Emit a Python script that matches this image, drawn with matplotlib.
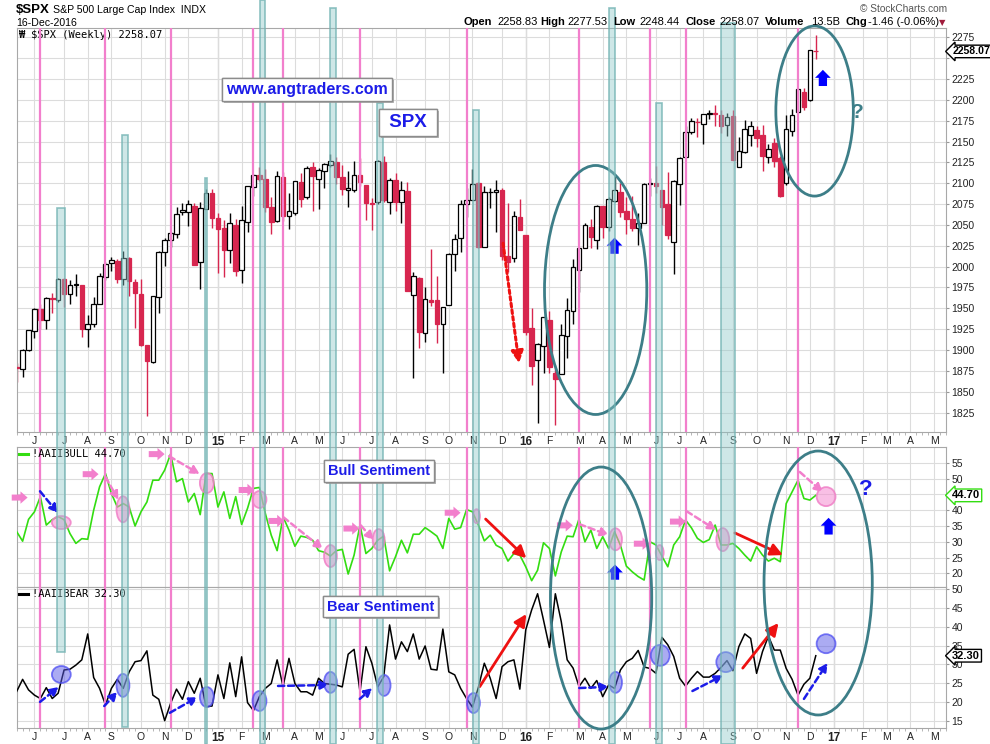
import matplotlib
matplotlib.use("Agg")
import matplotlib.pyplot as plt
import matplotlib.transforms as mtransforms
import matplotlib.patheffects as pe
from matplotlib.patches import Rectangle, Ellipse, FancyArrow
import numpy as np
import pandas as pd

plt.rcParams["font.family"] = ["Liberation Sans", "DejaVu Sans"]

# weekly bars, first one is the week ending 16-May-2014
start_week = "2014-05-16"

opens = [1880, 1877, 1900, 1923, 1949, 1936, 1962, 1960, 1985, 1967,
         1978, 1978, 1925, 1931, 1955, 1988, 2004, 2007, 1985, 2010,
         1982, 1967, 1906, 1886, 1964, 2018, 2032, 2039, 2065, 2065,
         2073, 2005, 2069, 2088, 2058, 2046, 2020, 2050, 1996, 2053,
         2096, 2110, 2105, 2072, 2055, 2108, 2061, 2064, 2102, 2083,
         2119, 2105, 2115, 2122, 2125, 2108, 2092, 2092, 2110, 2098,
         2075, 2077, 2126, 2078, 2104, 2078, 2091, 1966, 1986, 1920,
         1960, 1960, 1931, 1954, 2015, 2034, 2075, 2080, 2100, 2023,
         2089, 2090, 2092, 2013, 2010, 2060, 2038, 1926, 1888, 1905,
         1936, 1873, 1871, 1917, 1947, 1996, 2022, 2048, 2032, 2073,
         2047, 2079, 2089, 2067, 2057, 2046, 2052, 2100, 2100, 2092,
         2075, 2030, 2099, 2132, 2162, 2173, 2171, 2183, 2183, 2182,
         2170, 2181, 2120, 2138, 2158, 2164, 2158, 2132, 2148, 2130,
         2100, 2163, 2186, 2210, 2200, 2258.8]
highs = [1885, 1901, 1924, 1950, 1955, 1963, 1968, 1986, 1986, 1984,
         1991, 1978, 1942, 1964, 1992, 2005, 2012, 2009, 2019, 2011,
         1985, 1985, 1906, 1965, 2018.2, 2034, 2042, 2071, 2075.8, 2079.5,
         2076, 2077.9, 2093.5, 2093, 2064.4, 2056, 2064, 2057, 2072.4, 2097,
         2110.6, 2119.6, 2117.5, 2083, 2114.9, 2114, 2088, 2102.6, 2111.9, 2120.9,
         2125.9, 2117.7, 2124, 2134.7, 2132, 2121.9, 2115, 2126.6, 2130, 2098,
         2082, 2128, 2132.8, 2106, 2112.7, 2103, 2102, 1993, 1987, 1975,
         2020.9, 1989, 1952, 2016.5, 2039, 2079.7, 2094, 2116.5, 2101, 2097,
         2094, 2104.3, 2093.8, 2076.7, 2067, 2081.6, 2038, 1950, 1908.8, 1940.2,
         1947.2, 1881.6, 1930.7, 1962.9, 2009, 2022.4, 2052.4, 2056.6, 2074, 2073,
         2083, 2111, 2099.9, 2083, 2084.9, 2064, 2100, 2106, 2120.6, 2092,
         2113.3, 2104, 2132, 2169, 2178, 2178, 2183, 2188, 2193.4, 2187.9,
         2184, 2188, 2155, 2175.3, 2175, 2169, 2169.6, 2147.3, 2154.8, 2133,
         2182.3, 2189, 2213.4, 2214, 2259.8, 2277.5]
lows = [1862, 1868, 1899, 1915, 1925, 1925, 1944, 1958, 1952, 1955,
        1965, 1916, 1904, 1928, 1955, 1984, 1995, 1980, 1978, 1965,
        1926, 1905, 1820.7, 1884, 1944, 2001, 2024, 2034, 2062, 2049,
        2002, 1972.6, 2069, 2046, 1992, 1988, 2004, 1989, 1980.9, 2041,
        2085, 2103, 2066, 2039.7, 2054, 2055, 2045.5, 2062, 2072, 2081,
        2067, 2069, 2094, 2120, 2099, 2085.7, 2072, 2090, 2097, 2056,
        2044, 2075, 2077, 2063.5, 2067, 2052, 1970.9, 1867, 1903, 1910,
        1953, 1908, 1872, 1954, 1995, 2018, 2059, 2080, 2022.9, 2023,
        2070, 2042, 2008, 1993.3, 2005, 2043.6, 1918.5, 1857.8, 1812.3, 1872.6,
        1872, 1810.1, 1871, 1891, 1931.8, 1969, 2022, 2022, 2021.7, 2033.8,
        2043, 2077.5, 2059, 2039.7, 2043, 2025.9, 2052, 2085, 2088, 2050,
        2032.6, 1991.7, 2074, 2131, 2159, 2155.8, 2147.6, 2177, 2168.5, 2160.4,
        2157, 2127.8, 2119, 2136, 2145, 2144, 2114.7, 2124.4, 2119, 2083.8,
        2097.4, 2157, 2186, 2187.4, 2199, 2248.4]
closes = [1877.9, 1900.5, 1923.6, 1949.4, 1936.2, 1962.9, 1961.0, 1985.4, 1967.6, 1978.2,
          1978.3, 1925.2, 1931.6, 1955.1, 1988.4, 2003.4, 2007.7, 1985.5, 2010.4, 1982.9,
          1967.9, 1906.1, 1886.8, 1964.6, 2018.1, 2031.9, 2039.8, 2063.5, 2067.6, 2075.4,
          2002.3, 2070.7, 2088.8, 2058.2, 2044.8, 2019.4, 2051.8, 1995.0, 2055.5, 2097.0,
          2110.3, 2104.5, 2071.3, 2053.4, 2108.1, 2061.0, 2067.0, 2102.1, 2081.2, 2117.7,
          2108.3, 2116.1, 2122.7, 2126.1, 2107.4, 2092.8, 2094.1, 2110.0, 2101.5, 2076.8,
          2076.6, 2126.6, 2079.7, 2103.8, 2077.6, 2091.5, 1970.9, 1988.9, 1921.2, 1961.1,
          1958.0, 1931.3, 1951.4, 2014.9, 2033.1, 2075.2, 2079.4, 2099.2, 2023.0, 2089.2,
          2090.1, 2091.7, 2012.4, 2005.6, 2061.0, 2043.9, 1922.0, 1880.3, 1906.9, 1940.2,
          1880.1, 1864.8, 1917.8, 1948.1, 2000.0, 2022.2, 2049.6, 2035.9, 2072.8, 2047.6,
          2080.7, 2091.6, 2065.3, 2057.1, 2046.6, 2052.3, 2099.1, 2099.1, 2096.1, 2071.2,
          2037.4, 2103.0, 2129.9, 2161.7, 2175.0, 2173.6, 2182.9, 2184.1, 2183.9, 2169.0,
          2180.0, 2127.8, 2139.2, 2164.7, 2168.3, 2153.7, 2133.0, 2141.2, 2126.4, 2085.2,
          2164.5, 2181.9, 2213.4, 2192.0, 2259.5, 2258.07]

bull = [33.2, 30.2, 37.1, 39.5, 44.3, 35.3, 37.0, 38.0, 37.0, 32.6,
        29.5, 31.0, 30.8, 40.0, 47.4, 51.6, 45.3, 41.0, 42.1, 41.0,
        35.0, 39.5, 42.6, 49.5, 49.5, 52.7, 57.8, 49.0, 50.0, 42.6,
        45.3, 38.6, 51.6, 51.6, 41.0, 45.8, 37.4, 44.3, 35.5, 40.6,
        46.9, 47.2, 39.0, 32.1, 27.2, 37.9, 33.7, 28.6, 31.8, 31.4,
        30.5, 27.2, 26.7, 25.5, 27.2, 27.6, 19.8, 25.8, 35.3, 26.3,
        27.9, 30.5, 31.8, 20.8, 25.3, 30.5, 26.5, 32.4, 32.4, 34.5,
        33.2, 31.8, 27.9, 37.4, 34.0, 34.5, 40.2, 39.5, 35.3, 30.3,
        32.1, 28.9, 27.9, 23.9, 26.3, 25.8, 22.1, 17.7, 21.0, 29.7,
        27.9, 19.2, 26.8, 31.8, 31.6, 37.2, 30.0, 33.7, 27.9, 31.6,
        27.9, 33.2, 28.9, 22.3, 20.5, 19.0, 17.9, 30.0, 29.0, 25.5,
        22.1, 29.0, 31.6, 36.9, 34.4, 31.1, 29.8, 30.7, 35.3, 29.0,
        29.0, 29.5, 27.9, 25.8, 23.9, 28.4, 25.8, 23.9, 24.8, 23.7,
        42.1, 45.8, 49.5, 43.7, 43.2, 44.7]
bear = [22.8, 26.0, 23.2, 21.8, 20.9, 23.8, 20.9, 22.3, 28.5, 28.7,
        29.8, 31.2, 38.1, 26.5, 23.6, 19.2, 23.6, 26.0, 23.6, 28.0,
        30.7, 31.0, 33.6, 21.8, 20.7, 15.0, 19.6, 23.4, 20.7, 25.4,
        22.3, 26.3, 18.7, 18.9, 27.2, 20.9, 30.4, 21.4, 32.0, 19.8,
        17.7, 21.4, 23.6, 24.9, 31.2, 24.1, 31.6, 24.9, 22.7, 22.7,
        21.8, 26.3, 24.9, 24.7, 24.5, 24.0, 32.7, 34.0, 22.7, 34.7,
        30.3, 24.0, 26.7, 40.5, 31.4, 36.0, 33.4, 38.1, 31.4, 34.9,
        28.7, 28.5, 39.4, 28.0, 27.2, 23.6, 20.9, 18.6, 23.9, 30.3,
        26.3, 20.9, 29.4, 30.7, 31.2, 23.4, 39.2, 44.5, 48.8, 41.8,
        34.5, 48.8, 41.4, 31.2, 29.0, 24.1, 26.3, 23.6, 25.7, 21.4,
        24.5, 23.6, 28.5, 30.7, 31.6, 33.7, 29.3, 28.9, 27.6, 37.2,
        35.2, 32.1, 26.3, 24.2, 26.3, 28.1, 26.6, 26.6, 27.6, 29.2,
        31.0, 28.3, 34.7, 38.1, 36.9, 27.6, 33.4, 37.5, 33.8, 33.8,
        28.9, 26.0, 21.8, 24.7, 26.3, 32.3]

# vertical pink marker lines (week index)
pink_weeks = [4, 15, 26, 40, 45, 58, 76, 95, 107, 113, 132]
# teal highlight bars: left week, right week, top / bottom as figure fraction
teal_bars = [(6.84, 8.08, 0.720, 0.124), (17.74, 18.87, 0.819, 0.023),
             (31.74, 32.07, 0.761, 0.0), (41.02, 42.03, 1.0, 0.0),
             (52.93, 53.94, 0.989, 0.0), (60.93, 61.94, 0.862, 0.0),
             (77.09, 78.10, 0.852, 0.0), (100.08, 101.08, 0.989, 0.0),
             (108.08, 109.09, 0.862, 0.0), (119.04, 121.30, 0.969, 0.0)]

RED = "#d7264f"
GREEN = "#33dd11"
PINK = "#f27fcc"
TEAL = "#3d7e88"
BLUE = "#1c1ce8"
ARROW_BLUE = "#0000ff"
ARROW_RED = "#ee1111"
GRID = "#dcdcdc"

o = np.array(opens, float)
h = np.array(highs, float)
l = np.array(lows, float)
c = np.array(closes, float)
x = np.arange(len(c))

fig = plt.figure(figsize=(9.9, 7.44), dpi=100)
L, W = 16.7 / 990, 929.3 / 990
ax_p = fig.add_axes([L, 0.41935, W, 0.54261])
ax_b = fig.add_axes([L, 0.21102, W, 0.18817], sharex=ax_p)
ax_r = fig.add_axes([L, 0.02151, W, 0.18951], sharex=ax_p)

# month ticks: first bar whose week starts in a new month
dates = pd.date_range(start_week, periods=158, freq="W-FRI")
mondays = dates - pd.Timedelta(days=4)
month_idx = [i for i in range(1, len(dates)) if mondays[i].month != mondays[i - 1].month]
month_lbl = [("%02d" % (mondays[i].year % 100)) if mondays[i].month == 1
             else mondays[i].strftime("%b")[0] for i in month_idx]
year_idx = [i for i in month_idx if mondays[i].month == 1]

for ax in (ax_p, ax_b, ax_r):
    ax.set_xlim(0.53, 156.45)
    ax.set_xticks(month_idx)
    ax.set_xticks(np.arange(len(dates)), minor=True)
    ax.grid(True, which="major", color=GRID, lw=0.8)
    ax.set_axisbelow(True)
    for yi in year_idx:
        ax.axvline(yi, color="#c4c4c4", lw=0.9, zorder=0.5)
    for s in ax.spines.values():
        s.set_color("#a8a8a8")
        s.set_linewidth(0.8)
    ax.yaxis.tick_right()
    ax.tick_params(axis="y", length=2.5, pad=1.5, labelsize=7.5, colors="#222222",
                   color="#999999")
    ax.tick_params(axis="x", which="major", length=0, pad=3, labelsize=7.5,
                   colors="#222222")
    ax.tick_params(axis="x", which="minor", length=1.8, color="#aaaaaa")
    for pw in pink_weeks:
        ax.axvline(pw, color=PINK, lw=1.6, zorder=4)

ax_p.set_xticklabels(month_lbl)
ax_b.tick_params(axis="x", which="both", bottom=False, labelbottom=False)
for ax in (ax_p, ax_r):
    for t, i in zip(ax.get_xticklabels(), month_idx):
        if i in year_idx:
            t.set_fontweight("bold")
            t.set_fontsize(8.5)

# price candles
prev = np.r_[o[0], c[:-1]]
col = np.where(c >= prev, "black", RED)
face = np.where(c > o, "white", col)
ax_p.vlines(x, l, h, colors=col, lw=1.0, zorder=2)
ax_p.bar(x, np.maximum(np.abs(c - o), 0.8), bottom=np.minimum(o, c), width=0.78,
         color=face, edgecolor=col, linewidth=0.9, zorder=3)
ax_p.set_ylim(1801.7, 2285.8)
price_ticks = np.arange(1825, 2276, 25)
ax_p.set_yticks(price_ticks)
# the last-value tag sits over this label
ax_p.set_yticklabels(["" if v == 2250 else str(v) for v in price_ticks])

ax_b.plot(x, bull, color=GREEN, lw=1.2, zorder=3)
ax_b.set_ylim(15.7, 60.0)
bull_ticks = np.arange(20, 56, 5)
ax_b.set_yticks(bull_ticks)
ax_b.set_yticklabels(["" if v == 45 else str(v) for v in bull_ticks])

ax_r.plot(x, bear, color="black", lw=1.1, zorder=3)
ax_r.set_ylim(13.05, 50.6)
ax_r.set_yticks(np.arange(15, 51, 5))

# panel legends
mono = ["DejaVu Sans Mono"]
ax_p.annotate("\u20a9", xy=(0, 1), xycoords="axes fraction", xytext=(2, -5),
              textcoords="offset points", va="center", fontsize=7.5, family=mono,
              fontweight="bold")
ax_p.annotate(r"\$SPX (Weekly) 2258.07", xy=(0, 1), xycoords="axes fraction",
              xytext=(10.5, -5), textcoords="offset points", va="center",
              fontsize=7.5, family=mono)
for ax, name, lc in ((ax_b, "!AAIIBULL 44.70", GREEN), (ax_r, "!AAIIBEAR 32.30", "black")):
    ax.plot([0.0025, 0.0125], [0.95, 0.95], transform=ax.transAxes, color=lc, lw=2.2,
            clip_on=False, zorder=6)
    ax.text(0.0165, 0.95, name, transform=ax.transAxes, va="center", fontsize=7.5,
            family=mono, zorder=6)

# last value tags on the right axis
for ax, val, txt, ec, fs in ((ax_p, 2258.07, "2258.07", "black", 7.6),
                             (ax_b, 44.7, "44.70", GREEN, 8),
                             (ax_r, 32.3, "32.30", "black", 8)):
    ax.annotate(txt, xy=(1, val), xycoords=("axes fraction", "data"), xytext=(4.5, 0),
                textcoords="offset points", ha="left", va="center", fontsize=fs,
                fontweight="bold", annotation_clip=False, zorder=10,
                bbox=dict(boxstyle="larrow,pad=0.12", fc="white", ec=ec, lw=1.0))


def block_up(ax, xc, y0, y1, head_len):
    ax.add_patch(FancyArrow(xc, y0, 0, y1 - y0, width=1.4, head_width=2.65,
                            head_length=head_len, length_includes_head=True,
                            color=ARROW_BLUE, lw=0, zorder=7))


def block_right(ax, xc, yc):
    ax.add_patch(FancyArrow(xc - 1.34, yc, 2.68, 0, width=1.9, head_width=3.9,
                            head_length=1.2, length_includes_head=True,
                            color=PINK, lw=0, zorder=7, clip_on=False))


def dashed(ax, p0, p1, color, ls=(0, (2.5, 1.5)), ms=12, lw=1.8):
    ax.annotate("", xy=p1, xytext=p0, annotation_clip=False,
                arrowprops=dict(arrowstyle="-|>", color=color, lw=lw, linestyle=ls,
                                shrinkA=0, shrinkB=0, mutation_scale=ms), zorder=7)


def solid(ax, p0, p1):
    ax.annotate("", xy=p1, xytext=p0,
                arrowprops=dict(arrowstyle="-|>", color=ARROW_RED, lw=2.0,
                                shrinkA=0, shrinkB=0, mutation_scale=18), zorder=7)


def blob(ax, xc, yc, w, hgt, fc, ec):
    ax.add_patch(Ellipse((xc, yc), w, hgt, fc=fc, ec=ec, lw=1.3, zorder=5))


# price panel notes
dashed(ax_p, (82.17, 2028.0), (84.86, 1884.1), ARROW_RED, ls=(0, (1.2, 1.0)), ms=18, lw=2.2)
ax_p.add_patch(Ellipse((97.81, 1972.0), 17.28, 298.6, fill=False, ec=TEAL, lw=2, zorder=6))
ax_p.add_patch(Ellipse((134.8, 2186.6), 13.09, 204, fill=False, ec=TEAL, lw=2, zorder=6,
                       clip_on=False))
block_up(ax_p, 101.0, 2015.4, 2034.8, 9.6)
block_up(ax_p, 136.2, 2216.6, 2236.0, 9.6)
ax_p.text(142.0, 2185.4, "?", color=TEAL, fontsize=15, fontweight="bold", ha="center",
          va="center", zorder=7)

# bull panel notes
pink_fc, pink_ec = (0.96, 0.55, 0.82, 0.55), (0.94, 0.50, 0.78, 0.85)
for xc, yc in [(0.50, 44.0), (12.49, 51.4), (23.65, 57.75), (38.84, 46.4), (43.87, 36.6),
               (56.54, 34.2), (73.65, 39.2), (92.61, 35.2), (105.6, 29.4), (111.7, 36.4)]:
    block_right(ax_b, xc, yc)
for p0, p1 in [((15.01, 50.5), (17.19, 43.2)), ((25.75, 57.1), (30.95, 51.4)),
               ((45.04, 37.8), (51.75, 27.7)), ((58.13, 35.2), (60.31, 30.5)),
               ((95.04, 35.6), (100.07, 32.1)), ((113.16, 39.7), (118.2, 33.7)),
               ((132.3, 52.1), (136.2, 45.7))]:
    dashed(ax_b, p0, p1, PINK)
dashed(ax_b, (3.94, 46.0), (6.96, 39.1), BLUE)
for xc, yc, w, hg in [(7.54, 36.1, 3.19, 4.11), (17.95, 40.3, 2.18, 8.23),
                      (32.12, 48.6, 2.35, 6.33), (41.02, 43.4, 2.35, 5.38),
                      (53.01, 25.5, 2.18, 6.96), (61.15, 30.7, 2.01, 6.65),
                      (77.68, 38.1, 1.17, 4.43), (101.17, 30.8, 2.18, 6.96),
                      (108.63, 26.6, 1.34, 4.75), (119.29, 30.7, 2.18, 7.28),
                      (136.74, 44.3, 3.19, 6.01)]:
    blob(ax_b, xc, yc, w, hg, pink_fc, pink_ec)
solid(ax_b, (79.22, 37.2), (86.1, 24.8))
solid(ax_b, (121.34, 32.8), (129.45, 25.8))
block_up(ax_b, 101.08, 18.0, 22.8, 2.5)
block_up(ax_b, 137.16, 32.3, 37.6, 2.5)
ax_b.text(143.5, 46.7, "?", color=BLUE, fontsize=16, fontweight="bold", ha="center",
          va="center", zorder=7)

# bear panel notes
blue_fc, blue_ec = (0.35, 0.35, 0.90, 0.50), (0.30, 0.30, 0.95, 0.75)
for xc, yc, w, hg in [(7.54, 27.3, 3.19, 4.53), (17.95, 24.4, 2.18, 6.13),
                      (32.12, 21.3, 2.35, 5.33), (41.02, 20.25, 2.35, 5.33),
                      (53.01, 25.2, 2.18, 5.59), (62.07, 24.4, 2.18, 5.59),
                      (77.17, 19.7, 2.18, 5.33), (101.17, 25.2, 2.18, 5.59),
                      (108.72, 32.4, 3.19, 5.59), (119.79, 30.6, 3.19, 5.33),
                      (136.74, 35.5, 3.19, 5.06)]:
    blob(ax_r, xc, yc, w, hg, blue_fc, blue_ec)
for p0, p1 in [((3.94, 20.0), (7.12, 24.0)), ((14.79, 18.9), (17.02, 22.7)),
               ((25.87, 17.1), (30.61, 21.3)), ((44.15, 24.25), (52.76, 24.5)),
               ((57.96, 20.8), (60.09, 23.7)), ((95.04, 23.7), (100.07, 24.0)),
               ((114.16, 22.9), (119.36, 27.1)), ((133.0, 20.8), (137.0, 30.4))]:
    dashed(ax_r, p0, p1, BLUE)
solid(ax_r, (78.22, 24.05), (86.1, 43.4))
solid(ax_r, (122.66, 29.0), (128.7, 41.0))

# teal bars and big ellipses across the panels
blend = mtransforms.blended_transform_factory(ax_p.transData, fig.transFigure)
for x0, x1, top, bot in teal_bars:
    fig.add_artist(Rectangle((x0, bot), x1 - x0, top - bot, transform=blend,
                             fc=(0.55, 0.78, 0.78, 0.42), ec=(0.45, 0.70, 0.70, 0.8),
                             lw=1.2, zorder=1))
for xc, yc, w, hg in [(98.73, 0.1962, 17.11, 0.3522), (135.4, 0.2164, 18.29, 0.3548)]:
    fig.add_artist(Ellipse((xc, yc), w, hg, transform=blend, fill=False, ec=TEAL,
                           lw=2, zorder=2))

# boxed labels
box = dict(boxstyle="square,pad=0.25", fc="white", ec="#8c8c8c", lw=1)
for ax, xc, yc, txt, fs in ((ax_p, 48.99, 2213.0, "www.angtraders.com", 11.5),
                            (ax_p, 66.1, 2172.8, " SPX ", 13.5),
                            (ax_b, 61.2, 52.4, "Bull Sentiment", 10.5),
                            (ax_r, 61.5, 45.4, "Bear Sentiment", 10.5)):
    t = fig.text(xc, yc, txt, transform=ax.transData, ha="center", va="center",
                 color=BLUE, fontsize=fs, fontweight="bold", bbox=box, zorder=5)
    t.get_bbox_patch().set_path_effects(
        [pe.withSimplePatchShadow(offset=(1.5, -1.5), shadow_rgbFace="#999999", alpha=0.7),
         pe.Normal()])

# header
fig.text(16 / 990, 1 - 10 / 744, r"\$SPX", fontsize=9.5, fontweight="bold", va="center")
fig.text(53 / 990, 1 - 9.7 / 744, "S&P 500 Large Cap Index  INDX", fontsize=7.6,
         va="center")
fig.text(16 / 990, 1 - 22.7 / 744, "16-Dec-2016", fontsize=7.6, va="center")
fig.text(947 / 990, 1 - 9 / 744, "\u00a9 StockCharts.com", fontsize=7.3, color="#555555",
         ha="right", va="center")
head_items = [("Open", 463, True), ("2258.83", 497, False), ("High", 540, True),
              ("2277.53", 567, False), ("Low", 613, True), ("2248.44", 639, False),
              ("Close", 685, True), ("2258.07", 719, False), ("Volume", 765, True),
              ("13.5B", 811, False), ("Chg", 845, True), ("-1.46 (-0.06%)", 868, False)]
for txt, px, bold in head_items:
    fig.text(px / 990, 1 - 22.3 / 744, txt, fontsize=8, va="center",
             fontweight="bold" if bold else "normal")
fig.text(939 / 990, 1 - 22.3 / 744, "\u25bc", fontsize=6, color="#a01c3c", va="center",
         family=["DejaVu Sans"])

fig.savefig("out.png", dpi=100)
